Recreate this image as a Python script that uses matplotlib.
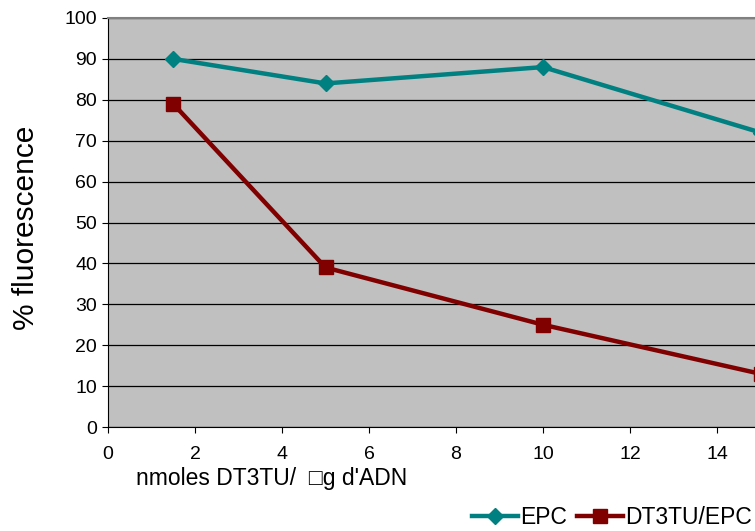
import matplotlib.pyplot as plt

plt.rcParams['font.family'] = ['Liberation Sans', 'DejaVu Sans']

# data
x_vals = [1.5, 5, 10, 15]
epc = [90, 84, 88, 72]
dt3tu_epc = [79, 39, 25, 13]
x_ticks = [0, 2, 4, 6, 8, 10, 12, 14]
y_ticks = [0, 10, 20, 30, 40, 50, 60, 70, 80, 90, 100]

fig = plt.figure(figsize=(7.55, 5.31), dpi=100)
ax = fig.add_axes([108/755, 1 - 427/531, 1 - 108/755, (427 - 18)/531])
ax.set_facecolor('#C0C0C0')

ax.plot(x_vals, epc, color='#008080', lw=3.2, marker='D', ms=8,
        label='EPC', clip_on=False, zorder=3)
ax.plot(x_vals, dt3tu_epc, color='#800000', lw=3.2, marker='s', ms=10,
        label='DT3TU/EPC', clip_on=False, zorder=3)

ax.set_xlim(0, 647/43.5)
ax.set_ylim(0, 100)
ax.set_xticks(x_ticks)
ax.set_yticks(y_ticks)
ax.yaxis.grid(True, color='black', lw=0.9)
ax.set_axisbelow(True)
ax.tick_params(labelsize=14, length=4, direction='out', color='black')
ax.tick_params(axis='x', pad=10)
ax.tick_params(axis='y', pad=4)

ax.spines['right'].set_visible(False)
ax.spines['top'].set_color('#808080')
ax.spines['top'].set_linewidth(1.5)

ax.set_ylabel('% fluorescence', fontsize=21.5)
ax.yaxis.set_label_coords(-0.105, 0.487)
ax.set_xlabel("nmoles DT3TU/  \u25a1g d'ADN", fontsize=16.5)
ax.xaxis.set_label_coords(0.2535, -0.098)

leg = fig.legend(loc='center left', bbox_to_anchor=(472/755, 1 - 518/531),
                 ncol=2, frameon=False, fontsize=16.5, handlelength=2.0,
                 handletextpad=0.1, columnspacing=0.45,
                 borderaxespad=0, borderpad=0)

fig.savefig('out.png', dpi=100)
